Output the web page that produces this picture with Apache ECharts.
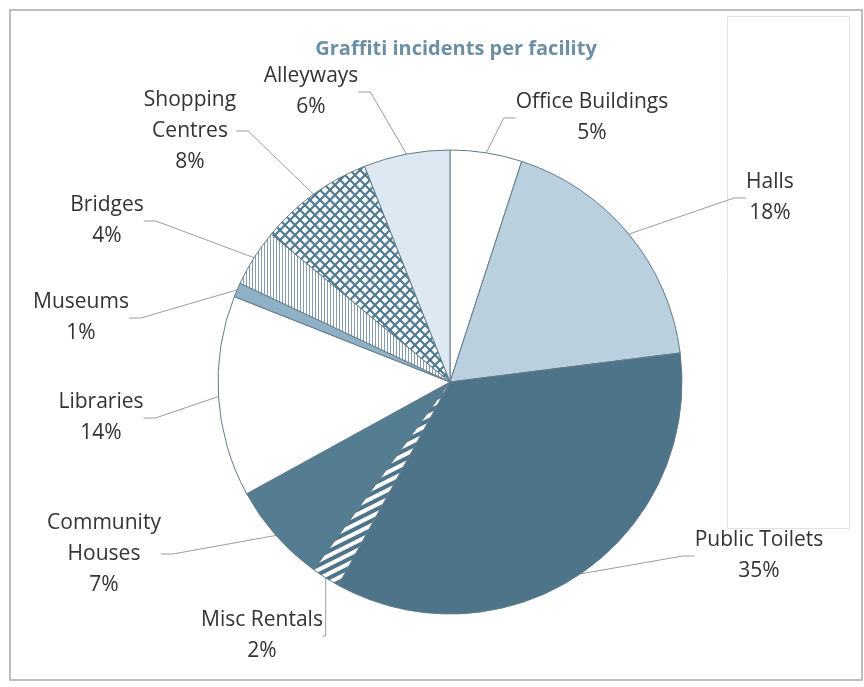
<!DOCTYPE html>
<html>
<head>
<meta charset="utf-8">
<script src="https://cdn.jsdelivr.net/npm/echarts@6/dist/echarts.min.js"></script>
<style>
  html, body { margin: 0; padding: 0; background: #ffffff; }
  #chart { width: 864px; height: 687px; }
</style>
</head>
<body>
<div id="chart"></div>
<script>
// Facilities, listed clockwise from twelve o'clock
const facilities = ['Office Buildings', 'Halls', 'Public Toilets', 'Misc Rentals', 'Community\nHouses',
                    'Libraries', 'Museums', 'Bridges', 'Shopping\nCentres', 'Alleyways'];
// Share of graffiti incidents (%)
const shares = [5, 18, 35, 2, 7, 14, 1, 4, 8, 6];

// Label block centres (layout only)
const labelCentres = [
  [592, 118], [770, 198], [759, 556], [262, 636], [104, 554],
  [101, 418], [81, 318], [107, 221], [190, 131], [311, 92]
];

// --- hatch fills ---------------------------------------------------------
function makeTile(w, h, draw) {
  const c = document.createElement('canvas');
  c.width = w; c.height = h;
  const ctx = c.getContext('2d');
  draw(ctx, w, h);
  return c;
}

// diagonal cross-hatch
const crossHatch = makeTile(10, 10, (ctx, w, h) => {
  ctx.fillStyle = '#ffffff';
  ctx.fillRect(0, 0, w, h);
  ctx.strokeStyle = '#4f7a90';
  ctx.lineWidth = 2.2;
  for (let k = -1; k <= 1; k++) {
    ctx.beginPath();
    ctx.moveTo(k * w - 2, -2); ctx.lineTo(k * w + w + 2, h + 2);
    ctx.moveTo(k * w + w + 2, -2); ctx.lineTo(k * w - 2, h + 2);
    ctx.stroke();
  }
});

// thin vertical stripes
const verticalStripes = makeTile(3, 4, (ctx, w, h) => {
  ctx.fillStyle = '#ffffff';
  ctx.fillRect(0, 0, w, h);
  ctx.fillStyle = '#869cab';
  ctx.fillRect(0, 0, 1, h);
});

// white slanted stripes on dark slate
const slantStripes = makeTile(18, 9, (ctx, w, h) => {
  ctx.fillStyle = '#4e7489';
  ctx.fillRect(0, 0, w, h);
  ctx.strokeStyle = '#ffffff';
  ctx.lineWidth = 4;
  for (let c = -36; c <= 54; c += 18) {
    ctx.beginPath();
    ctx.moveTo(c + 18, -9);
    ctx.lineTo(c - 36, 18);
    ctx.stroke();
  }
});

const fills = [
  '#ffffff',
  '#bad0de',
  '#4e7489',
  { image: slantStripes, repeat: 'repeat' },
  '#557d92',
  '#ffffff',
  '#8fb1c5',
  { image: verticalStripes, repeat: 'repeat' },
  { image: crossHatch, repeat: 'repeat' },
  '#dde9f2'
];

const pieData = facilities.map((name, i) => ({
  name: name,
  value: shares[i],
  itemStyle: { color: fills[i] }
}));

const chart = echarts.init(document.getElementById('chart'), null, { renderer: 'canvas' });

chart.setOption({
  backgroundColor: '#ffffff',
  animation: false,
  title: {
    text: 'Graffiti incidents per facility',
    left: 451,
    top: 34,
    textAlign: 'center',
    textStyle: {
      fontFamily: '"Open Sans", sans-serif',
      fontWeight: 'bold',
      fontSize: 20,
      color: '#6d8fa3'
    }
  },
  graphic: [
    {
      type: 'rect', z: -10,
      shape: { x: 10, y: 10, width: 852, height: 670 },
      style: { fill: 'none', stroke: '#bdbdbd', lineWidth: 2 }
    },
    {
      type: 'rect', z: -10,
      shape: { x: 727.5, y: 16.5, width: 122, height: 512 },
      style: { fill: 'none', stroke: '#e2e2e2', lineWidth: 1 }
    }
  ],
  series: [{
    type: 'pie',
    center: [450, 382],
    radius: 232,
    startAngle: 90,
    clockwise: true,
    data: pieData,
    itemStyle: {
      borderColor: '#647b8a',
      borderWidth: 1
    },
    label: {
      show: true,
      position: 'outside',
      formatter: '{b}\n{c}%',
      fontFamily: '"Open Sans", sans-serif',
      fontSize: 21,
      lineHeight: 31,
      color: '#333333',
      align: 'center'
    },
    labelLine: {
      show: true,
      length: 12,
      length2: 12,
      lineStyle: { color: '#9c9c9c', width: 1 }
    },
    labelLayout: function (params) {
      const p = labelCentres[params.dataIndex];
      return { x: p[0], y: p[1], align: 'center', verticalAlign: 'middle', hideOverlap: false, moveOverlap: null };
    },
    emphasis: { disabled: true }
  }]
});
</script>
</body>
</html>
